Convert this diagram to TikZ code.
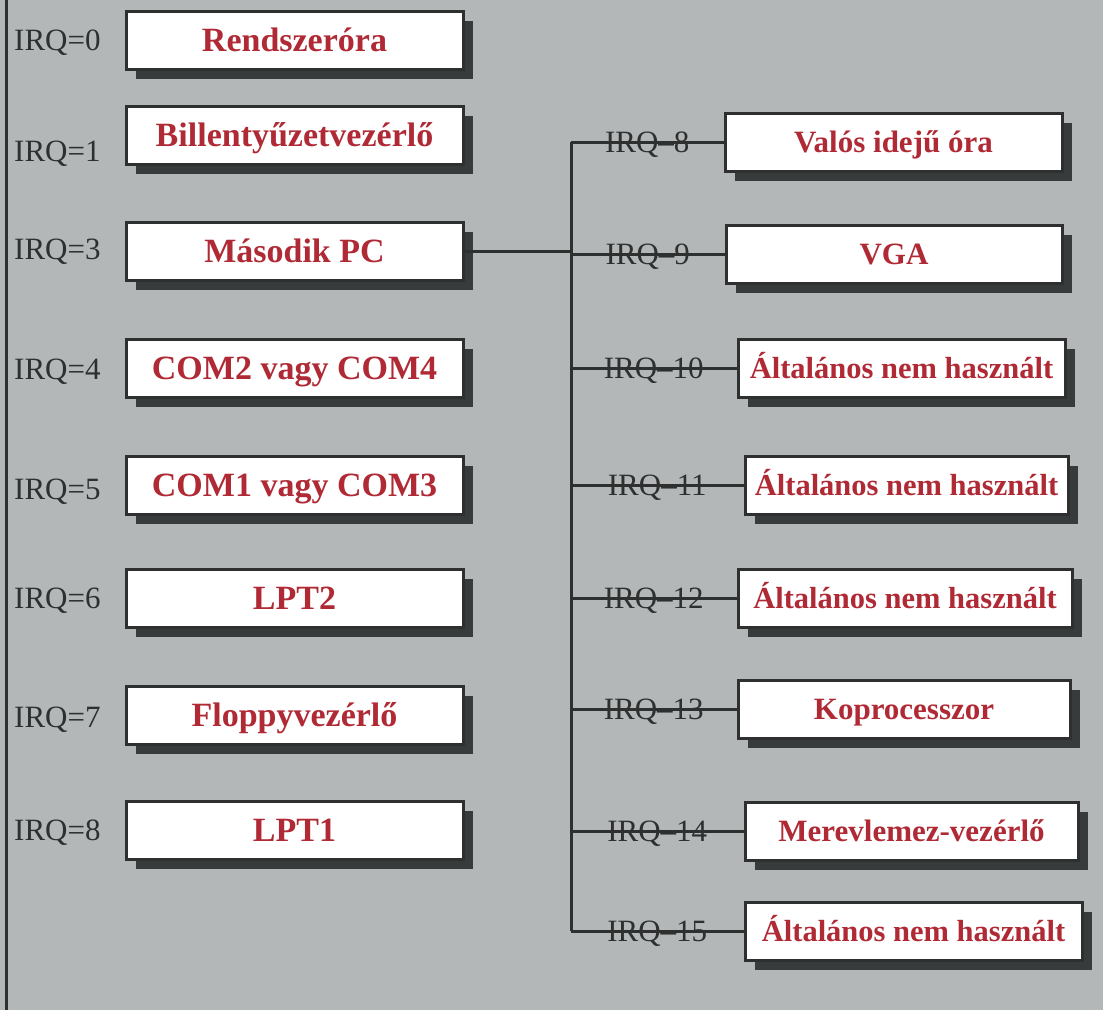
\documentclass[tikz,border=0pt]{standalone}
\usepackage{fontspec}
\setmainfont{Liberation Serif}
\usetikzlibrary{shadows,calc}
\definecolor{bg}{HTML}{B3B7B7}
\definecolor{ink}{HTML}{2E3030}
\definecolor{boxred}{HTML}{B02A35}
\definecolor{shad}{HTML}{383B3B}
\begin{document}
\begin{tikzpicture}[x=1pt,y=-1pt,
  dev/.style={draw=ink, line width=3pt, fill=white, inner sep=0pt,
    minimum height=58pt, text=boxred, text height=21pt, text depth=0pt,
    font=\bfseries\fontsize{31}{31}\selectfont,
    drop shadow={shadow xshift=10pt, shadow yshift=-10pt, fill=shad, opacity=1}},
  devl/.style={dev, minimum width=337pt, text height=23pt,
    font=\bfseries\fontsize{34}{34}\selectfont},
  devg/.style={dev, text height=20.6pt, font=\bfseries\fontsize{30.5}{30.5}\selectfont},
  irq/.style={text=ink, font=\fontsize{31}{31}\selectfont, inner sep=0pt,
    anchor=base, yshift=-10pt},
  irql/.style={irq, anchor=base west},
  wire/.style={draw=ink, line width=3pt}]
\fill[bg] (0,0) rectangle (1103,1010);
\useasboundingbox (0,0) rectangle (1103,1010);
\draw[ink, line width=3pt] (6,0) -- (6,1010);

% left column
\node[devl] (l0) at (294.5,40)  {Rendszeróra};
\node[devl] (l1) at (294.5,135) {Billentyűzetvezérlő};
\node[devl] (l3) at (294.5,251) {Második PC};
\node[devl] (l4) at (294.5,368) {COM2 vagy COM4};
\node[devl] (l5) at (294.5,485) {COM1 vagy COM3};
\node[devl] (l6) at (294.5,598) {LPT2};
\node[devl] (l7) at (294.5,715) {Floppyvezérlő};
\node[devl] (l8) at (294.5,830) {LPT1};

\node[irql] (t0) at (14,40)  {IRQ=0};
\node[irql] (t1) at (14,151) {IRQ=1};
\node[irql] (t3) at (14,249) {IRQ=3};
\node[irql] (t4) at (14,369) {IRQ=4};
\node[irql] (t5) at (14,489) {IRQ=5};
\node[irql] (t6) at (14,598) {IRQ=6};
\node[irql] (t7) at (14,717) {IRQ=7};
\node[irql] (t8) at (14,830) {IRQ=8};

% right column
\node[dev, minimum width=337pt]  (r8)  at (893.5,142) {Valós idejű óra};
\node[dev, minimum width=336pt]  (r9)  at (894,254)   {VGA};
\node[devg, minimum width=327pt] (r10) at (901.5,368) {Általános nem használt};
\node[devg, minimum width=323pt] (r11) at (906.5,485) {Általános nem használt};
\node[devg, minimum width=334pt] (r12) at (905,598)   {Általános nem használt};
\node[dev, minimum width=332pt]  (r13) at (904,709)   {Koprocesszor};
\node[dev, minimum width=333pt]  (r14) at (911.5,831) {Merevlemez-vezérlő};
\node[devg, minimum width=337pt] (r15) at (913.5,931) {Általános nem használt};

\coordinate (bus) at (571,0);
\draw[wire] (r8.west -| bus) -- (r15.west -| bus);
\draw[wire] (l3.east) -- (l3.east -| bus);
\foreach \r/\n in {r8/8,r9/9,r10/10,r11/11,r12/12,r13/13,r14/14,r15/15}{
  \draw[wire] (\r.west -| bus) -- (\r.west);
  \node[irq] (lab\n) at ($(\r.west -| bus)!0.5!(\r.west)$) {IRQ–\n};
}
\end{tikzpicture}
\end{document}
